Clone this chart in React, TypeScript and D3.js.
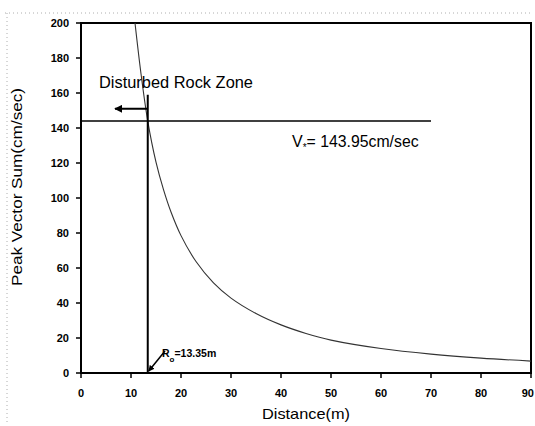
import React from "react";
import * as d3 from "d3";

// Data
const distance = [10.8, 12, 13.35, 15, 16.5, 18, 20, 23, 26.5, 30, 35, 40, 45, 50, 60, 70, 80, 90];
const peakVectorSum = [200, 171, 143.95, 120.5, 104.8, 92, 78.5, 63.7, 51.5, 42.8, 34, 27.5, 22.6, 18.8, 14, 10.8, 8.5, 6.8];
const xTicks = [0, 10, 20, 30, 40, 50, 60, 70, 80, 90];
const yTicks = [0, 20, 40, 60, 80, 100, 120, 140, 160, 180, 200];
const ppvThreshold = 143.95;
const thresholdLineEnd = 70;
const rockZoneRadius = 13.35;
const rockZoneLineTop = 159;
const arrowLevel = 151;
const arrowStart = 6.8;

const W = 535;
const H = 426;
const FONT = "'Liberation Sans', Arial, Helvetica, sans-serif";

export default function App() {
  const x = d3.scaleLinear().domain([0, 90]).range([81, 531]);
  const y = d3.scaleLinear().domain([0, 200]).range([373, 23]);
  const pts: [number, number][] = distance.map((d, i) => [d, peakVectorSum[i]]);
  const line = d3
    .line<[number, number]>()
    .x((d) => x(d[0]))
    .y((d) => y(d[1]))
    .curve(d3.curveCatmullRom.alpha(0.5));

  return (
    <svg
      width={W}
      height={H}
      viewBox={`0 0 ${W} ${H}`}
      style={{ position: "absolute", left: 0, top: 0, background: "#fff" }}
    >
      <defs>
        <clipPath id="plot">
          <rect x={81} y={23} width={450} height={350} />
        </clipPath>
        <marker id="ah" viewBox="0 0 10 10" refX="9" refY="5" markerWidth="4" markerHeight="4" orient="auto-start-reverse">
          <path d="M0,0 L10,5 L0,10 Z" fill="#000" />
        </marker>
      </defs>

      {/* faint scan border */}
      <line x1={5} y1={13} x2={530} y2={13} stroke="#999" strokeWidth={0.8} strokeDasharray="1,3" />
      <line x1={7} y1={13} x2={7} y2={424} stroke="#999" strokeWidth={0.8} strokeDasharray="1,3" />

      {/* frame */}
      <rect x={81} y={23} width={450} height={350} fill="none" stroke="#000" strokeWidth={2} />

      {/* y ticks */}
      {yTicks.map((t) => (
        <g key={"y" + t}>
          <line x1={76} x2={81} y1={y(t)} y2={y(t)} stroke="#000" strokeWidth={1.5} />
          <text x={69} y={y(t)} dy="0.35em" textAnchor="end" fontFamily={FONT} fontWeight="bold" fontSize={11}>
            {t}
          </text>
        </g>
      ))}

      {/* x ticks */}
      {xTicks.map((t, i) => (
        <g key={"x" + t}>
          <line x1={x(t)} x2={x(t)} y1={373} y2={378} stroke="#000" strokeWidth={1.5} />
          <text
            x={i === xTicks.length - 1 ? W - 1 : x(t)}
            y={396.5}
            textAnchor={i === xTicks.length - 1 ? "end" : "middle"}
            fontFamily={FONT}
            fontWeight="bold"
            fontSize={11}
          >
            {t}
          </text>
        </g>
      ))}

      {/* axis titles */}
      <text x={306} y={419} textAnchor="middle" fontFamily={FONT} fontSize={15} textLength={88} lengthAdjust="spacingAndGlyphs">
        Distance(m)
      </text>
      <text
        transform="translate(22,187) rotate(-90)"
        textAnchor="middle"
        fontFamily={FONT}
        fontSize={15}
        textLength={198}
        lengthAdjust="spacingAndGlyphs"
      >
        Peak Vector Sum(cm/sec)
      </text>

      {/* attenuation curve */}
      <path d={line(pts) || ""} fill="none" stroke="#333" strokeWidth={1.1} clipPath="url(#plot)" />

      {/* threshold horizontal line */}
      <line x1={x(0)} x2={x(thresholdLineEnd)} y1={y(ppvThreshold)} y2={y(ppvThreshold)} stroke="#000" strokeWidth={1.5} />
      {/* disturbed zone vertical line */}
      <line x1={x(rockZoneRadius)} x2={x(rockZoneRadius)} y1={y(0)} y2={y(rockZoneLineTop)} stroke="#000" strokeWidth={2} />

      {/* arrow */}
      <line
        x1={x(rockZoneRadius)}
        x2={x(arrowStart)}
        y1={y(arrowLevel)}
        y2={y(arrowLevel)}
        stroke="#000"
        strokeWidth={2}
        markerEnd="url(#ah)"
      />

      <text x={99} y={88} fontFamily={FONT} fontSize={16.5} textLength={154} lengthAdjust="spacingAndGlyphs">
        Disturbed Rock Zone
      </text>

      {/* V* label */}
      <text x={292} y={147} fontFamily={FONT} fontSize={16}>
        <tspan>V</tspan>
        <tspan fontSize={10} dy={4}>*</tspan>
        <tspan dy={-4} textLength={112} lengthAdjust="spacingAndGlyphs">= 143.95cm/sec</tspan>
      </text>

      {/* R0 label */}
      <line x1={165} y1={351} x2={x(rockZoneRadius) + 1} y2={y(0) - 2} stroke="#000" strokeWidth={1.5} markerEnd="url(#ah)" />
      <text x={162} y={357} fontFamily={FONT} fontWeight="bold" fontSize={10.5}>
        <tspan>R</tspan>
        <tspan fontSize={8} dy={5}>o</tspan>
        <tspan dy={-5}>=13.35m</tspan>
      </text>
    </svg>
  );
}
